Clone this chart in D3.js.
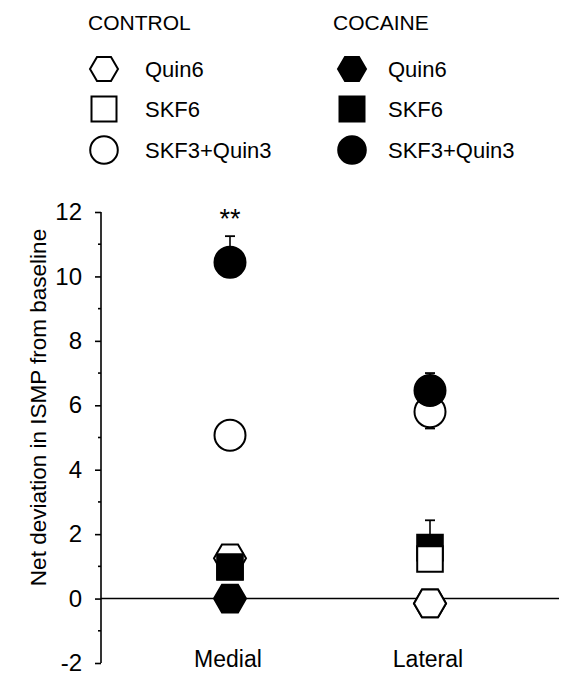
<!DOCTYPE html>
<html>
<head>
<meta charset="utf-8">
<script src="https://cdn.jsdelivr.net/npm/d3@7"></script>
<style>
  body { margin: 0; background: #fff; }
  svg text { font-family: Arial, "Liberation Sans", sans-serif; fill: #000; }
</style>
</head>
<body>
<svg width="561" height="673" viewBox="0 0 561 673"></svg>
<script>
// Data
const regions = ["Medial", "Lateral"];
const yTicks = [-2, 0, 2, 4, 6, 8, 10, 12];
const yMinorTicks = [-1, 1, 3, 5, 7, 9, 11];

const controlQuin6 = [1.25, -0.15];
const controlSKF6 = [1.0, 1.23];
const controlCombo = [5.07, 5.8];
const cocaineQuin6 = [0.0, -0.15];
const cocaineSKF6 = [0.98, 1.58];
const cocaineCombo = [10.44, 6.46];

// error bar ends, null where none is drawn
const controlComboErr = [null, 5.28];
const cocaineComboErr = [11.25, 7.0];
const cocaineSKF6Err = [null, 2.43];

const series = [
    { key: "cQuin", group: "CONTROL", label: "Quin6", shape: "hex", filled: false, values: controlQuin6 },
    { key: "cSKF", group: "CONTROL", label: "SKF6", shape: "square", filled: false, values: controlSKF6 },
    { key: "cCombo", group: "CONTROL", label: "SKF3+Quin3", shape: "circle", filled: false, values: controlCombo, err: controlComboErr },
    { key: "kQuin", group: "COCAINE", label: "Quin6", shape: "hex", filled: true, values: cocaineQuin6 },
    { key: "kSKF", group: "COCAINE", label: "SKF6", shape: "square", filled: true, values: cocaineSKF6, err: cocaineSKF6Err },
    { key: "kCombo", group: "COCAINE", label: "SKF3+Quin3", shape: "circle", filled: true, values: cocaineCombo, err: cocaineComboErr }
];

// stacking order of overlapping markers at each site
const layerOrder = {
    Medial: ["cSKF", "cQuin", "kSKF", "kQuin", "cCombo", "kCombo"],
    Lateral: ["kQuin", "cQuin", "kSKF", "cSKF", "cCombo", "kCombo"]
};

const svg = d3.select("svg");

const x = d3.scalePoint().domain(regions).range([230, 430]);
const y = d3.scaleLinear().domain([-2, 12]).range([663, 212]);

// marker path builders
const hexPath = r => {
    const p = d3.path();
    for (let i = 0; i < 6; i++) {
        const a = i * Math.PI / 3;
        i ? p.lineTo(r * Math.cos(a), r * Math.sin(a)) : p.moveTo(r, 0);
    }
    p.closePath();
    return p.toString();
};
const markerPath = (shape, r) => {
    if (shape === "hex") return hexPath(r);
    if (shape === "square") return `M${-r},${-r}H${r}V${r}H${-r}Z`;
    return d3.symbol(d3.symbolCircle, Math.PI * r * r)();
};
const chartSize = { hex: 16, square: 12.8, circle: 15.5 };
const legendSize = { hex: 14, square: 12.5, circle: 13.8 };

// axis
const axisG = svg.append("g").attr("transform", "translate(101,0)");
axisG.call(d3.axisLeft(y).tickValues(yTicks).tickSize(6).tickPadding(13).tickFormat(d => String(d)))
    .call(g => g.select(".domain").attr("d", `M0,${y(-2)}V${y(12)}`).attr("stroke-width", 1.6))
    .call(g => g.selectAll(".tick line").attr("stroke-width", 1.6))
    .call(g => g.selectAll(".tick text").attr("font-size", 24).attr("font-family", "Arial, 'Liberation Sans', sans-serif"));
axisG.selectAll(".minor")
    .data(yMinorTicks)
    .join("line")
    .attr("class", "minor")
    .attr("x1", -3).attr("x2", 0)
    .attr("y1", d => y(d)).attr("y2", d => y(d))
    .attr("stroke", "#000").attr("stroke-width", 1.6);

// zero reference line
svg.append("line")
    .attr("x1", 101).attr("x2", 559)
    .attr("y1", y(0)).attr("y2", y(0))
    .attr("stroke", "#000").attr("stroke-width", 1.5);

// y title
svg.append("text")
    .attr("transform", `translate(46,${(y(-2) + y(12)) / 2 - 30}) rotate(-90)`)
    .attr("text-anchor", "middle")
    .attr("font-size", 22.5)
    .text("Net deviation in ISMP from baseline");

// x labels
svg.append("g").selectAll("text")
    .data(regions)
    .join("text")
    .attr("x", d => x(d) - 2)
    .attr("y", 667)
    .attr("text-anchor", "middle")
    .attr("font-size", 23)
    .text(d => d);

// markers, then error bars from the marker edge
const byKey = Object.fromEntries(series.map(s => [s.key, s]));
regions.forEach((region, i) => {
    const g = svg.append("g").attr("transform", `translate(${x(region)},0)`);
    layerOrder[region].forEach(k => {
        const s = byKey[k];
        g.append("path")
            .attr("d", markerPath(s.shape, chartSize[s.shape]))
            .attr("transform", `translate(0,${y(s.values[i])})`)
            .attr("fill", s.filled ? "#000" : "#fff")
            .attr("stroke", "#000")
            .attr("stroke-width", 2);
    });
    series.filter(s => s.err && s.err[i] !== null).forEach(s => {
        const v = s.values[i], e = s.err[i];
        const r = chartSize[s.shape] * (e > v ? -1 : 1);
        g.append("line")
            .attr("x1", 0).attr("x2", 0)
            .attr("y1", y(v) + r).attr("y2", y(e))
            .attr("stroke", "#000").attr("stroke-width", 1.6);
        g.append("line")
            .attr("x1", -5).attr("x2", 5)
            .attr("y1", y(e)).attr("y2", y(e))
            .attr("stroke", "#000").attr("stroke-width", 1.8);
    });
});

// significance mark
svg.append("text")
    .attr("x", x("Medial"))
    .attr("y", y(cocaineComboErr[0]) - 8)
    .attr("text-anchor", "middle")
    .attr("font-size", 27)
    .text("**");

// legend
const legendGroups = [
    { name: "CONTROL", x: 88, sx: 104, tx: 145 },
    { name: "COCAINE", x: 333, sx: 352, tx: 388 }
];
const legendRowsY = [69, 109, 150];
legendGroups.forEach(lg => {
    const g = svg.append("g");
    g.append("text").attr("x", lg.x).attr("y", 30).attr("font-size", 21).text(lg.name);
    series.filter(s => s.group === lg.name).forEach((s, j) => {
        g.append("path")
            .attr("d", markerPath(s.shape, legendSize[s.shape]))
            .attr("transform", `translate(${lg.sx},${legendRowsY[j]})`)
            .attr("fill", s.filled ? "#000" : "#fff")
            .attr("stroke", "#000")
            .attr("stroke-width", 2);
        g.append("text")
            .attr("x", lg.tx)
            .attr("y", legendRowsY[j])
            .attr("dy", "0.35em")
            .attr("font-size", 22)
            .text(s.label);
    });
});
</script>
</body>
</html>
